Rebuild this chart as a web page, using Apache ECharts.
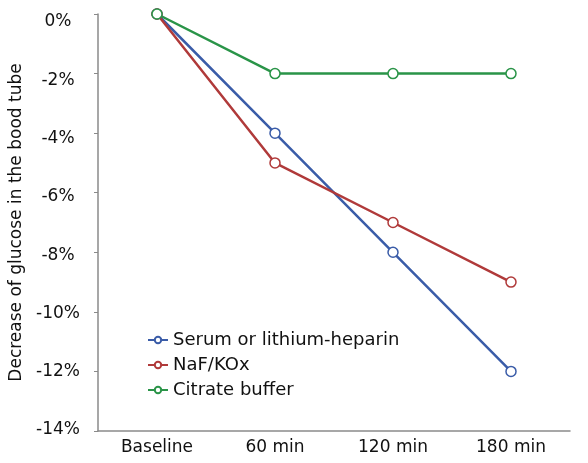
<!DOCTYPE html>
<html><head><meta charset="utf-8">
<script src="https://cdn.jsdelivr.net/npm/echarts@6/dist/echarts.min.js"></script>
<style>html,body{margin:0;padding:0;background:#fff}#c{width:588px;height:463px}</style>
</head><body><div id="c"></div>
<script>
const categories = ['Baseline', '60 min', '120 min', '180 min'];
const serumValues = [0, -4, -8, -12];
const nafValues = [0, -5, -7, -9];
const citrateValues = [0, -2, -2, -2];
const seriesNames = ['Serum or lithium-heparin', 'NaF/KOx', 'Citrate buffer'];
const yTicks = [0, -2, -4, -6, -8, -10, -12, -14];

const colors = ['#3a5ca8', '#b03a3a', '#2a9448'];
const font = 'DejaVu Sans, Liberation Sans, sans-serif';
const chart = echarts.init(document.getElementById('c'));
function mk(name, data, color) {
  return {
    name, type: 'line', data, symbol: 'circle', symbolSize: 10,
    lineStyle: { color, width: 2.5 },
    itemStyle: { color: '#fff', borderColor: color, borderWidth: 1.5 },
    emphasis: { disabled: true }
  };
}
chart.setOption({
  animation: false,
  textStyle: { fontFamily: font },
  grid: { left: 96, right: 18, top: 14, bottom: 32 },
  legend: {
    orient: 'vertical', left: 147, top: 331, itemGap: 7, padding: 0,
    itemWidth: 20, itemHeight: 8,
    textStyle: { fontSize: 18, color: '#111', fontFamily: font, lineHeight: 18 },
    data: seriesNames
  },
  xAxis: {
    type: 'category', data: categories, boundaryGap: true,
    axisLine: { onZero: false, lineStyle: { color: '#8a8a8a', width: 1.5 } },
    axisTick: { inside: true, length: 4, lineStyle: { color: '#8a8a8a' } },
    axisLabel: { fontSize: 17, color: '#111', margin: 8, fontFamily: font }
  },
  yAxis: [{
    type: 'value', min: -14, max: 0, interval: 2,
    name: 'Decrease of glucose in the bood tube', nameLocation: 'middle', nameGap: 73,
    nameTextStyle: { fontSize: 17, color: '#111', fontFamily: font },
    axisLine: { show: true, lineStyle: { color: '#8a8a8a', width: 1.5 } },
    axisTick: { show: true, length: 4, lineStyle: { color: '#8a8a8a' } },
    splitLine: { show: false },
    axisLabel: { show: false }
  }, {
    type: 'value', min: -14.034, max: 0.275, position: 'left',
    axisLine: { show: false }, axisTick: { show: false }, splitLine: { show: false },
    axisLabel: { customValues: yTicks, fontSize: 17, color: '#111', margin: 40, align: 'center',
      formatter: v => v + '%', fontFamily: font }
  }],
  series: [
    mk(seriesNames[0], serumValues, colors[0]),
    mk(seriesNames[1], nafValues, colors[1]),
    mk(seriesNames[2], citrateValues, colors[2])
  ]
});
</script></body></html>
